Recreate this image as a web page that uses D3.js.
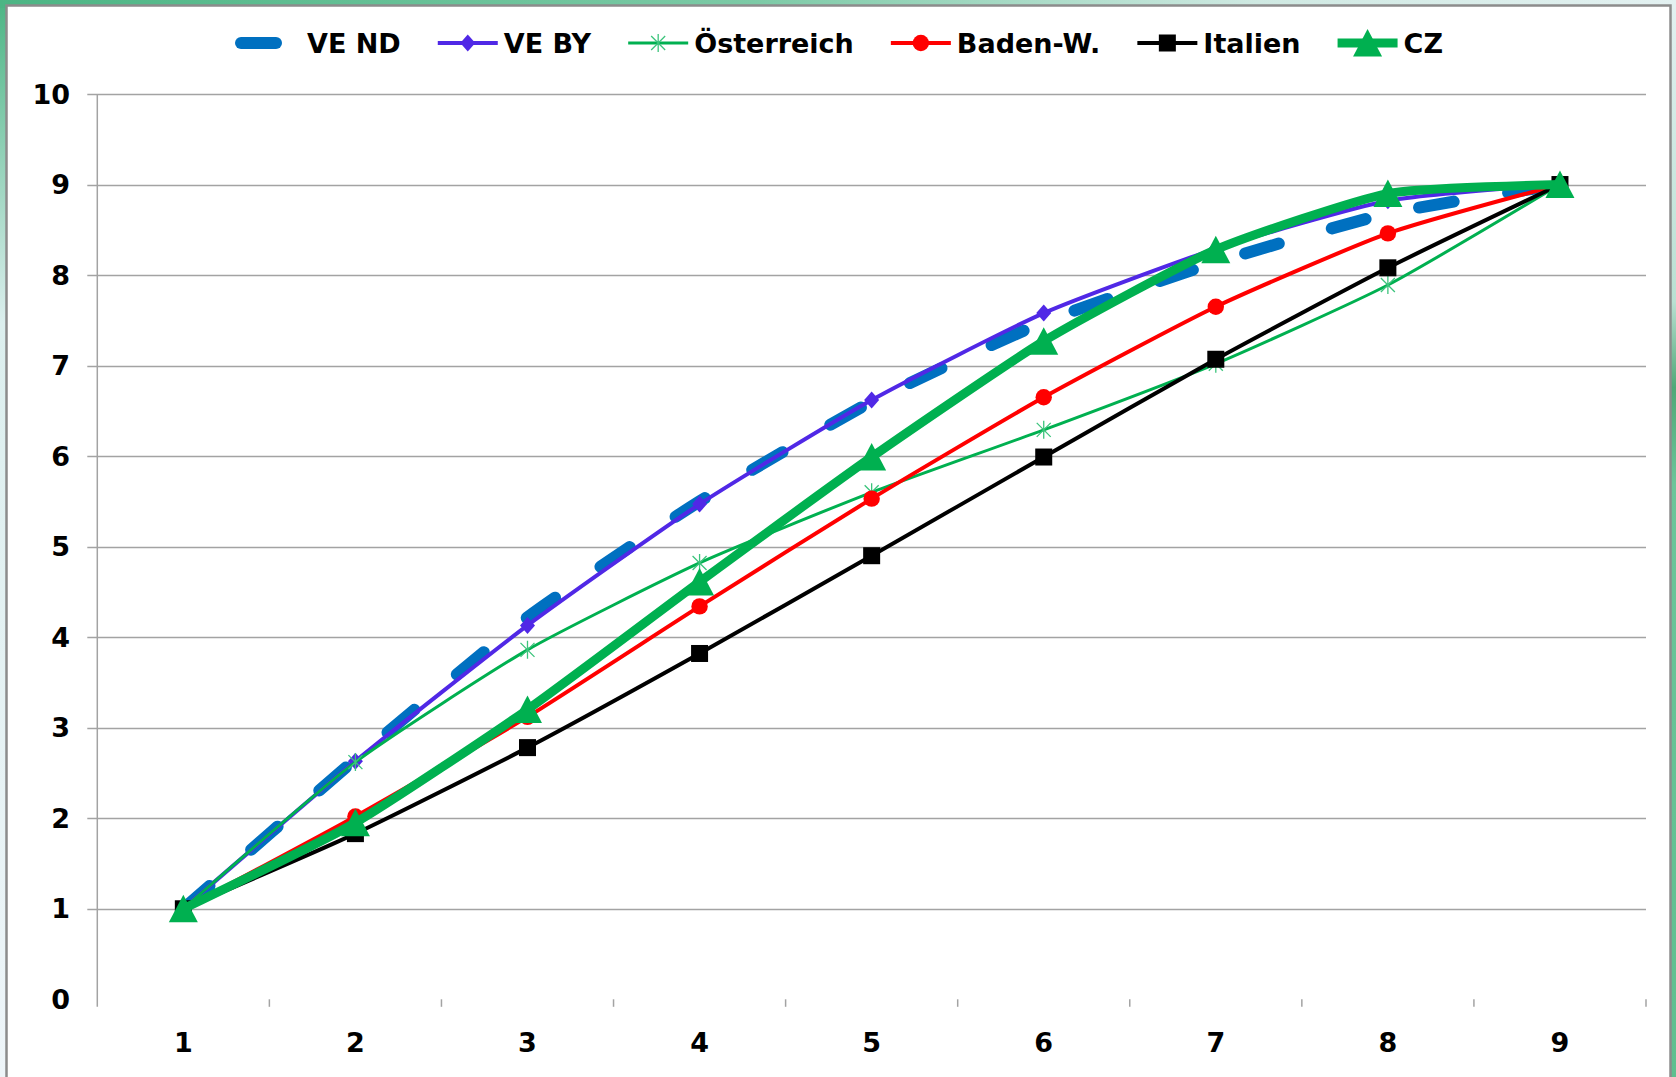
<!DOCTYPE html>
<html>
<head>
<meta charset="utf-8">
<script src="https://cdn.jsdelivr.net/npm/d3@7"></script>
<style>
    html, body { margin: 0; padding: 0; overflow: hidden; background: #eef6f6; }
    svg { display: block; }
    text { font-family: "DejaVu Sans", Verdana, sans-serif; font-weight: bold; fill: #000; }
</style>
</head>
<body>
<svg id="mainsvg" width="1676" height="1077"></svg>
<script>
// chart data
let categories = [1, 2, 3, 4, 5, 6, 7, 8, 9];
let yTicks = [0, 1, 2, 3, 4, 5, 6, 7, 8, 9, 10];
let seriesNames = ["VE ND", "VE BY", "Österreich", "Baden-W.", "Italien", "CZ"];
let veND = [1, 2.65, 4.22, 5.5, 6.6, 7.48, 8.14, 8.68, 9.0];
let veBY = [1, 2.63, 4.13, 5.47, 6.62, 7.58, 8.29, 8.82, 9.0];
let oesterreich = [1, 2.62, 3.86, 4.82, 5.6, 6.29, 7.02, 7.89, 9.0];
let badenW = [1, 2.02, 3.12, 4.34, 5.53, 6.65, 7.65, 8.46, 9.0];
let italien = [1, 1.83, 2.78, 3.82, 4.9, 5.99, 7.07, 8.08, 9.0];
let cz = [1, 1.95, 3.2, 4.61, 5.99, 7.27, 8.28, 8.9, 9.0];

let seriesValues = [veND, veBY, oesterreich, badenW, italien, cz];

// look of each series
let styles = {
    "VE ND":      {color: "#0070c0", width: 12, dash: "35 55", marker: "none"},
    "VE BY":      {color: "#5028e6", width: 4, dash: null, marker: "diamond"},
    "Österreich": {color: "#00b050", width: 3, dash: null, marker: "star"},
    "Baden-W.":   {color: "#ff0000", width: 4, dash: null, marker: "circle"},
    "Italien":    {color: "#000000", width: 4, dash: null, marker: "square"},
    "CZ":         {color: "#00b050", width: 9, dash: null, marker: "triangle"}
};

let svg = d3.select("#mainsvg");
let W = 1676, H = 1077;

// ---- background (slide edge + white panel)
let defs = svg.append("defs");
let gTop = defs.append("linearGradient").attr("id", "g-top").attr("x1", 0).attr("x2", 1).attr("y1", 0).attr("y2", 0);
gTop.append("stop").attr("offset", 0).attr("stop-color", "#4cb584");
gTop.append("stop").attr("offset", 0.45).attr("stop-color", "#7ccaa6");
gTop.append("stop").attr("offset", 0.75).attr("stop-color", "#cfe9e2");
gTop.append("stop").attr("offset", 1).attr("stop-color", "#e3f1f1");
let gLeft = defs.append("linearGradient").attr("id", "g-left").attr("x1", 0).attr("x2", 0).attr("y1", 0).attr("y2", 1);
gLeft.append("stop").attr("offset", 0).attr("stop-color", "#4cb584");
gLeft.append("stop").attr("offset", 0.3).attr("stop-color", "#dcefee");
gLeft.append("stop").attr("offset", 1).attr("stop-color", "#eef5f9");
let gRight = defs.append("linearGradient").attr("id", "g-right").attr("x1", 0).attr("x2", 0).attr("y1", 0).attr("y2", 1);
gRight.append("stop").attr("offset", 0).attr("stop-color", "#e3f1f1");
gRight.append("stop").attr("offset", 0.28).attr("stop-color", "#b9e0d2");
gRight.append("stop").attr("offset", 0.36).attr("stop-color", "#4fa877");
gRight.append("stop").attr("offset", 0.45).attr("stop-color", "#6cc59a");
gRight.append("stop").attr("offset", 1).attr("stop-color", "#5fbf8f");

svg.append("rect").attr("x", 0).attr("y", 0).attr("width", W).attr("height", H).attr("fill", "#eef6f6");
svg.append("rect").attr("x", 0).attr("y", 0).attr("width", 10).attr("height", H).attr("fill", "url(#g-left)");
svg.append("rect").attr("x", W - 10).attr("y", 0).attr("width", 10).attr("height", H).attr("fill", "url(#g-right)");
svg.append("rect").attr("x", 0).attr("y", 0).attr("width", W).attr("height", 8).attr("fill", "url(#g-top)");
svg.append("rect")
    .attr("x", 6.5).attr("y", 5.5).attr("width", 1664).attr("height", 1100)
    .attr("fill", "#ffffff").attr("stroke", "#8c8c8c").attr("stroke-width", 2.5);

// ---- scales
let plotLeft = 97.3, plotRight = 1646, yTop = 94, yBottom = 999.3;
let x = d3.scaleBand().domain(categories).range([plotLeft, plotRight]);
let y = d3.scaleLinear().domain([0, 10]).range([yBottom, yTop]);
let cx = d => x(d) + x.bandwidth() / 2;

// gridlines (none at 0)
let grid = svg.append("g").attr("id", "grid-g");
grid.selectAll("line").data(yTicks.filter(t => t > 0)).enter().append("line")
    .attr("x1", plotLeft - 10).attr("x2", plotRight)
    .attr("y1", d => Math.round(y(d)) + 0.5).attr("y2", d => Math.round(y(d)) + 0.5)
    .attr("stroke", "#a3a3a3").attr("stroke-width", 1.5);

// y axis
let yAxis = svg.append("g").attr("id", "y-axis-g");
yAxis.append("line")
    .attr("x1", plotLeft).attr("x2", plotLeft).attr("y1", yTop).attr("y2", yBottom + 7.5)
    .attr("stroke", "#a3a3a3").attr("stroke-width", 1.5);
yAxis.selectAll("text").data(yTicks).enter().append("text")
    .attr("x", 70).attr("y", d => y(d))
    .attr("dy", "0.36em")
    .attr("text-anchor", "end")
    .attr("font-size", 27)
    .text(d => d);

// x axis: only tick marks between categories, no line
let xAxis = svg.append("g").attr("id", "x-axis-g");
let xTickPos = categories.map(c => x(c) + x.bandwidth());
xAxis.selectAll("line").data(xTickPos).enter().append("line")
    .attr("x1", d => d).attr("x2", d => d)
    .attr("y1", yBottom).attr("y2", yBottom + 7.5)
    .attr("stroke", "#a3a3a3").attr("stroke-width", 1.5);
xAxis.selectAll("text").data(categories).enter().append("text")
    .attr("x", d => cx(d)).attr("y", 1042)
    .attr("dy", "0.36em")
    .attr("text-anchor", "middle")
    .attr("font-size", 27)
    .text(d => d);

// ---- markers
function drawMarker(sel, type, color) {
    if (type === "diamond") {
        sel.append("path").attr("d", "M0,-8.5L7.5,0L0,8.5L-7.5,0Z").attr("fill", color);
    } else if (type === "circle") {
        sel.append("circle").attr("r", 8.2).attr("fill", color);
    } else if (type === "square") {
        sel.append("rect").attr("x", -8.5).attr("y", -8.5).attr("width", 17).attr("height", 17).attr("fill", color);
    } else if (type === "triangle") {
        sel.append("path").attr("d", "M0,-14L14.5,13.5L-14.5,13.5Z").attr("fill", color);
    } else if (type === "star") {
        sel.append("path").attr("d", "M0,-9V9M-7,-7L7,7M-7,7L7,-7")
            .attr("stroke", "#3cc47c").attr("stroke-width", 1.3).attr("fill", "none");
    }
}

// ---- series (lightly smoothed, like the spreadsheet)
let line = d3.line()
    .x((d, i) => cx(categories[i]))
    .y(d => y(d))
    .curve(d3.curveCardinal.tension(0.45));

let seriesg = svg.append("g").attr("id", "series-g");
seriesNames.forEach((name, si) => {
    let st = styles[name];
    let g = seriesg.append("g").attr("class", "series");
    g.append("path")
        .attr("d", line(seriesValues[si]))
        .attr("fill", "none")
        .attr("stroke", st.color)
        .attr("stroke-width", st.width)
        .attr("stroke-linecap", st.dash ? "round" : "butt")
        .attr("stroke-linejoin", "round")
        .attr("stroke-dasharray", st.dash);
    if (st.marker !== "none") {
        g.selectAll(".mk").data(seriesValues[si]).enter().append("g")
            .attr("class", "mk")
            .attr("transform", (d, i) => `translate(${cx(categories[i])},${y(d)})`)
            .each(function () { drawMarker(d3.select(this), st.marker, st.color); });
    }
});

// ---- legend
let legend = svg.append("g").attr("id", "legend-g");
let slot = 60, textGap = 6, itemGap = 37, legendY = 43, legendCenter = 842;
let items = seriesNames.map(name => {
    let g = legend.append("g");
    let st = styles[name];
    g.append("line")
        .attr("x1", 0).attr("x2", slot).attr("y1", 0).attr("y2", 0)
        .attr("stroke", st.color).attr("stroke-width", st.width)
        .attr("stroke-linecap", st.dash ? "round" : "butt")
        .attr("stroke-dasharray", st.dash);
    if (st.marker !== "none") {
        let m = g.append("g").attr("transform", `translate(${slot / 2},0)`);
        drawMarker(m, st.marker, st.color);
    }
    let t = g.append("text")
        .attr("x", slot + textGap).attr("y", 0).attr("dy", "0.36em")
        .attr("font-size", 27)
        .text(name);
    return {g: g, w: slot + textGap + t.node().getComputedTextLength()};
});
let total = d3.sum(items, d => d.w) + itemGap * (items.length - 1);
let cur = legendCenter - total / 2;
items.forEach(it => {
    it.g.attr("transform", `translate(${cur},${legendY})`);
    cur += it.w + itemGap;
});
</script>
</body>
</html>
